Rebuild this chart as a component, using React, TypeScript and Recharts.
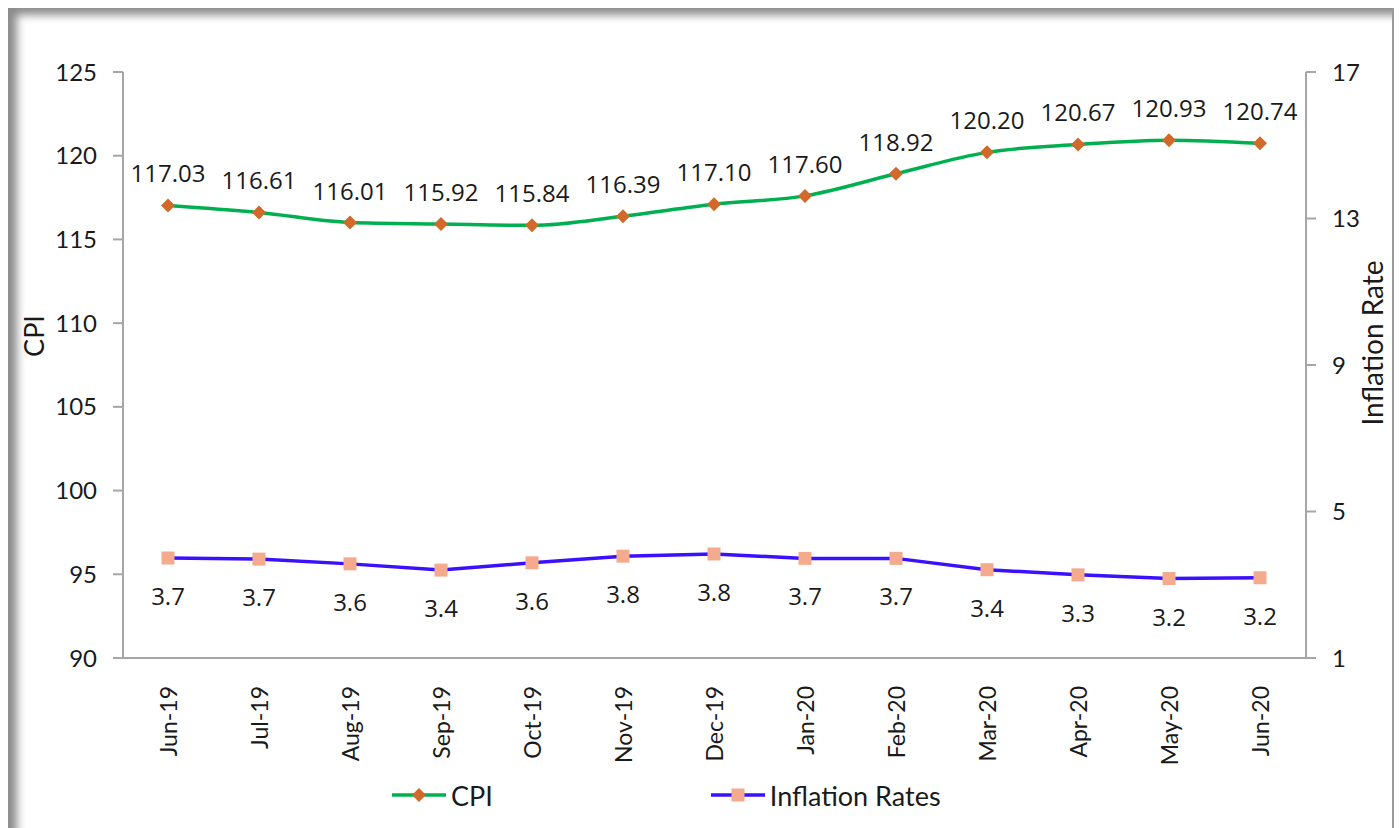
import React from 'react'
import { LineChart, Line, XAxis, YAxis, LabelList } from 'recharts'

const MONTHS = [
  'Jun-19', 'Jul-19', 'Aug-19', 'Sep-19', 'Oct-19', 'Nov-19', 'Dec-19',
  'Jan-20', 'Feb-20', 'Mar-20', 'Apr-20', 'May-20', 'Jun-20',
]
const CPI = [117.03, 116.61, 116.01, 115.92, 115.84, 116.39, 117.1, 117.6, 118.92, 120.2, 120.67, 120.93, 120.74]
const INFLATION = [3.73, 3.7, 3.57, 3.4, 3.6, 3.78, 3.84, 3.72, 3.72, 3.41, 3.27, 3.17, 3.19]
const CPI_TICKS = [90, 95, 100, 105, 110, 115, 120, 125]
const RATE_TICKS = [1, 5, 9, 13, 17]

const GREEN = '#00B050'
const ORANGE = '#D0692A'
const BLUE = '#3A10FF'
const SALMON = '#F4AA8C'
const AXIS = '#A6A6A6'
const TEXT = '#1a1a1a'
const TICK_FONT = 'Lato, "Noto Sans", sans-serif'
const LABEL_FONT = '"Open Sans", "Noto Sans", sans-serif'

const data = MONTHS.map((m, i) => ({ month: m, cpi: CPI[i], rate: INFLATION[i] }))

const Diamond = (props: any) => {
  const { cx, cy } = props
  if (cx == null || cy == null) return null
  const r = 7
  return <polygon points={`${cx},${cy - r} ${cx + r},${cy} ${cx},${cy + r} ${cx - r},${cy}`} fill={ORANGE} />
}

const Square = (props: any) => {
  const { cx, cy } = props
  if (cx == null || cy == null) return null
  return <rect x={cx - 6.5} y={cy - 6.5} width={13} height={13} fill={SALMON} />
}

const MonthTick = (props: any) => {
  const { x, y, payload } = props
  const ty = y + 20
  return (
    <text x={x} y={ty} transform={`rotate(-90, ${x}, ${ty})`} textAnchor="end" dominantBaseline="central"
      fontSize={23} fontFamily={TICK_FONT} fill={TEXT}>
      {payload.value}
    </text>
  )
}

const CpiLabel = (props: any) => (
  <text x={props.x} y={props.y - 23} textAnchor="middle" fontSize={24} fontFamily={LABEL_FONT} fill={TEXT}>
    {Number(props.value).toFixed(2)}
  </text>
)

const RateLabel = (props: any) => (
  <text x={props.x} y={props.y + 47} textAnchor="middle" fontSize={24} fontFamily={LABEL_FONT} fill={TEXT}>
    {Number(props.value).toFixed(1)}
  </text>
)

export default function App() {
  return (
    <div style={{ position: 'absolute', left: 0, top: 0, width: 1400, height: 828, overflow: 'hidden', background: '#fff' }}>
      {/* frame with shadow */}
      <div style={{
        position: 'absolute', left: 8, top: 8, width: 1384, height: 840,
        boxShadow: 'inset 12px 10px 8px -3px rgba(0,0,0,0.45)',
        borderRight: '2px solid #9a9a9a',
      }} />
      <div style={{ position: 'absolute', left: 0, top: 0 }}>
        <LineChart width={1400} height={828} data={data} margin={{ top: 72, right: 38, bottom: 0, left: 43 }}>
          <XAxis dataKey="month" height={170} padding={{ left: 45, right: 46 }} tick={<MonthTick />}
            tickLine={false} axisLine={{ stroke: AXIS, strokeWidth: 2 }} interval={0} />
          <YAxis yAxisId="cpi" domain={[90, 125]} ticks={CPI_TICKS} width={80} tickSize={10} tickMargin={16}
            axisLine={{ stroke: AXIS, strokeWidth: 2 }} tickLine={{ stroke: AXIS, strokeWidth: 2 }}
            tick={{ fontSize: 24, fontFamily: TICK_FONT, fill: TEXT }}
            label={({ viewBox }: any) => (
              <text x={viewBox.x - 10} y={336} transform={`rotate(-90, ${viewBox.x - 10}, 336)`}
                textAnchor="middle" dominantBaseline="central" fontSize={27} fontFamily={TICK_FONT} fill={TEXT}>CPI</text>
            )} />
          <YAxis yAxisId="rate" orientation="right" domain={[1, 17]} ticks={RATE_TICKS} width={56} tickSize={10} tickMargin={16}
            axisLine={{ stroke: AXIS, strokeWidth: 2 }} tickLine={{ stroke: AXIS, strokeWidth: 2 }}
            tick={{ fontSize: 24, fontFamily: TICK_FONT, fill: TEXT }}
            label={() => (
              <text x={1372} y={343} transform="rotate(-90, 1372, 343)"
                textAnchor="middle" dominantBaseline="central" fontSize={28} fontFamily={TICK_FONT} fill={TEXT}>Inflation Rate</text>
            )} />
          <Line yAxisId="cpi" type="monotone" dataKey="cpi" stroke={GREEN} strokeWidth={3.5}
            dot={<Diamond />} activeDot={false} isAnimationActive={false}>
            <LabelList dataKey="cpi" content={<CpiLabel />} />
          </Line>
          <Line yAxisId="rate" type="linear" dataKey="rate" stroke={BLUE} strokeWidth={3.5}
            dot={<Square />} activeDot={false} isAnimationActive={false}>
            <LabelList dataKey="rate" content={<RateLabel />} />
          </Line>
        </LineChart>
      </div>
      {/* legend */}
      <div style={{ position: 'absolute', left: 392, top: 778, display: 'flex', alignItems: 'center',
        fontFamily: TICK_FONT, fontSize: 27, color: TEXT }}>
        <svg width={54} height={34}>
          <line x1={0} y1={17} x2={54} y2={17} stroke={GREEN} strokeWidth={3.5} />
          <polygon points="27,10 34,17 27,24 20,17" fill={ORANGE} />
        </svg>
        <span style={{ marginLeft: 5 }}>CPI</span>
        <svg width={54} height={34} style={{ marginLeft: 218 }}>
          <line x1={0} y1={17} x2={54} y2={17} stroke={BLUE} strokeWidth={3.5} />
          <rect x={20.5} y={10.5} width={13} height={13} fill={SALMON} />
        </svg>
        <span style={{ marginLeft: 5 }}>Inflation Rates</span>
      </div>
    </div>
  )
}
